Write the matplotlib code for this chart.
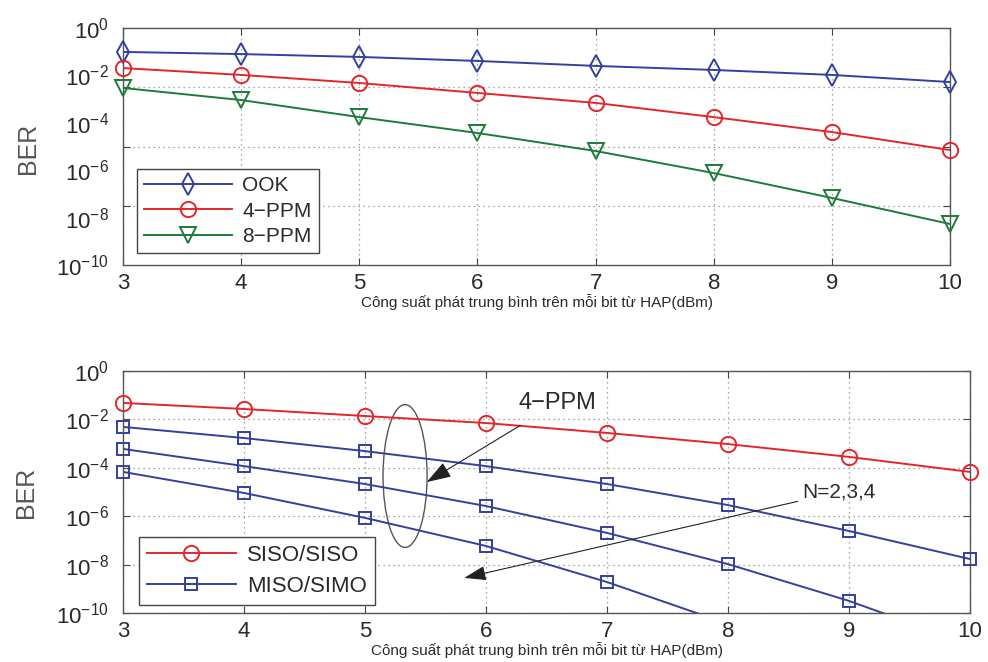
import matplotlib
matplotlib.use("Agg")
import matplotlib.pyplot as plt
from matplotlib.patches import Ellipse

plt.rcParams["font.family"] = ["Liberation Sans", "DejaVu Sans"]
plt.rcParams["mathtext.fontset"] = "custom"
plt.rcParams["mathtext.rm"] = "Liberation Sans"
plt.rcParams["mathtext.it"] = "Liberation Sans"

# ---------------- dữ liệu (log10 của BER) ----------------
p_dbm = [3, 4, 5, 6, 7, 8, 9, 10]

ook_log = [-1.01, -1.10, -1.22, -1.39, -1.60, -1.77, -1.98, -2.28]
ppm4_log = [-1.69, -1.98, -2.32, -2.74, -3.16, -3.76, -4.39, -5.15]
ppm8_log = [-2.53, -3.04, -3.76, -4.43, -5.19, -6.12, -7.17, -8.27]

siso_log = [-1.32, -1.57, -1.86, -2.15, -2.56, -3.02, -3.55, -4.17]
mimo_n2_log = [-2.31, -2.77, -3.31, -3.93, -4.67, -5.54, -6.61, -7.77]
mimo_n3_log = [-3.22, -3.93, -4.67, -5.58, -6.69, -7.98, -9.50, -11.3]
mimo_n4_log = [-4.17, -5.04, -6.07, -7.23, -8.72, -10.45]

ytick_exp = [0, -2, -4, -6, -8, -10]
top_grid_exp = [-2.5, -5, -7.5]

xlabel = "Công suất phát trung bình trên mỗi bit từ HAP(dBm)"

BLUE = "#34409c"
RED = "#e3262b"
GREEN = "#1d7a3a"
TXT = "#2a2a2a"
GRID = "#8a8a8a"


def curve(ax, xs, logs, color, marker, ms, label=None):
    # đường bị cắt theo khung, marker được vẽ trọn cả ở mép
    ys = [10 ** v for v in logs]
    ax.plot(xs[:len(ys)], ys, color=color, lw=1.4)
    vis = [(x, y) for x, y, v in zip(xs, ys, logs) if v >= -10]
    ax.plot([p[0] for p in vis], [p[1] for p in vis], ls="none", marker=marker,
            ms=ms, mfc="none", mec=color, mew=1.4, clip_on=False, zorder=3)
    if label:
        ax.plot([], [], color=color, lw=1.4, marker=marker, ms=ms, mfc="none",
                mew=1.4, label=label)


def style_axes(ax):
    ax.set_xlim(3, 10)
    ax.set_ylim(1e-10, 1)
    ax.set_yscale("log")
    ax.set_xticks(p_dbm)
    ax.set_xticklabels([str(v) for v in p_dbm], fontsize=16, color=TXT)
    ax.tick_params(axis="x", which="major", direction="in", top=True,
                   length=5, width=0.8, color="#444444", pad=6)
    ax.grid(True, axis="x", which="major", linestyle=(0, (1, 3)),
            color=GRID, linewidth=0.9)
    for s in ax.spines.values():
        s.set_color("#555555")
        s.set_linewidth(1.0)
    ax.set_xlabel(xlabel, fontsize=11, color=TXT, labelpad=0)
    ax.set_ylabel("BER", fontsize=18, color="#555555")


def style_legend(leg):
    leg.get_frame().set_edgecolor("#444444")
    leg.get_frame().set_linewidth(1.0)
    for t in leg.get_texts():
        t.set_color(TXT)


ylabels = [f"$10^{{{e}}}$".replace("-", "\u2212") for e in ytick_exp]

fig = plt.figure(figsize=(9.88, 6.62), dpi=100)
ax1 = fig.add_axes([123 / 988, 1 - 265 / 662, 827 / 988, 237 / 662])
ax2 = fig.add_axes([123 / 988, 1 - 613 / 662, 847 / 988, 242 / 662])

# ---------------- panel trên ----------------
curve(ax1, p_dbm, ook_log, BLUE, "d", 11, "OOK")
curve(ax1, p_dbm, ppm4_log, RED, "o", 11, "4\u2212PPM")
curve(ax1, p_dbm, ppm8_log, GREEN, "v", 12, "8\u2212PPM")
style_axes(ax1)
ax1.set_yticks([10 ** e for e in top_grid_exp])
ax1.set_yticklabels([""] * len(top_grid_exp))
ax1.set_yticks([10.0 ** e for e in ytick_exp], minor=True)
ax1.set_yticklabels(ylabels, minor=True, fontsize=16, color=TXT)
ax1.tick_params(axis="y", which="major", direction="in", right=True,
                length=5, width=0.8, color="#444444")
ax1.tick_params(axis="y", which="minor", length=0, pad=10)
for t in ax1.get_yticklabels(minor=True):
    t.set_y(t.get_position()[1])
ax1.grid(True, axis="y", which="major", linestyle=(0, (1, 3)),
         color=GRID, linewidth=0.9)
ax1.yaxis.set_label_coords(-0.10, 0.49)
leg1 = ax1.legend(loc="lower left", bbox_to_anchor=(0.017, 0.05),
                  borderaxespad=0, fontsize=15, handlelength=4.2,
                  borderpad=0.35, labelspacing=0.3, handletextpad=0.5,
                  fancybox=False, framealpha=1)
style_legend(leg1)

# ---------------- panel dưới ----------------
curve(ax2, p_dbm, siso_log, RED, "o", 11, "SISO/SISO")
curve(ax2, p_dbm, mimo_n2_log, BLUE, "s", 8, "MISO/SIMO")
curve(ax2, p_dbm, mimo_n3_log, BLUE, "s", 8)
curve(ax2, p_dbm, mimo_n4_log, BLUE, "s", 8)
style_axes(ax2)
ax2.set_yticks([10.0 ** e for e in ytick_exp])
ax2.set_yticklabels(ylabels, fontsize=16, color=TXT)
ax2.yaxis.set_minor_locator(matplotlib.ticker.NullLocator())
ax2.tick_params(axis="y", which="major", direction="in", right=True,
                length=5, width=0.8, color="#444444", pad=10)
ax2.grid(True, axis="y", which="major", linestyle=(0, (1, 3)),
         color=GRID, linewidth=0.9)
ax2.yaxis.set_label_coords(-0.10, 0.5)
leg2 = ax2.legend(loc="lower left", bbox_to_anchor=(0.019, 0.035),
                  borderaxespad=0, fontsize=16, handlelength=4.0,
                  borderpad=0.35, labelspacing=0.45, handletextpad=0.5,
                  fancybox=False, framealpha=1)
style_legend(leg2)

# chú thích: elip + mũi tên
ax2.add_patch(Ellipse((0.333, 0.566), 0.052, 0.59, transform=ax2.transAxes,
                      fill=False, edgecolor="#555555", lw=1.0))
ax2.annotate("4\u2212PPM", xy=(5.51, 10 ** -4.59), xytext=(6.59, 10 ** -1.32),
             fontsize=17, color=TXT, ha="center", va="center",
             arrowprops=dict(arrowstyle="-|>,head_length=0.9,head_width=0.3",
                             color="#222222", lw=0.8, shrinkA=12, shrinkB=0))
ax2.annotate("N=2,3,4", xy=(5.82, 10 ** -8.55), xytext=(8.61, 10 ** -5.0),
             fontsize=15, color=TXT, ha="left", va="center",
             arrowprops=dict(arrowstyle="-|>,head_length=0.9,head_width=0.3",
                             color="#222222", lw=0.8, shrinkA=1, shrinkB=0))

fig.savefig("out.png", dpi=100, facecolor="white")
